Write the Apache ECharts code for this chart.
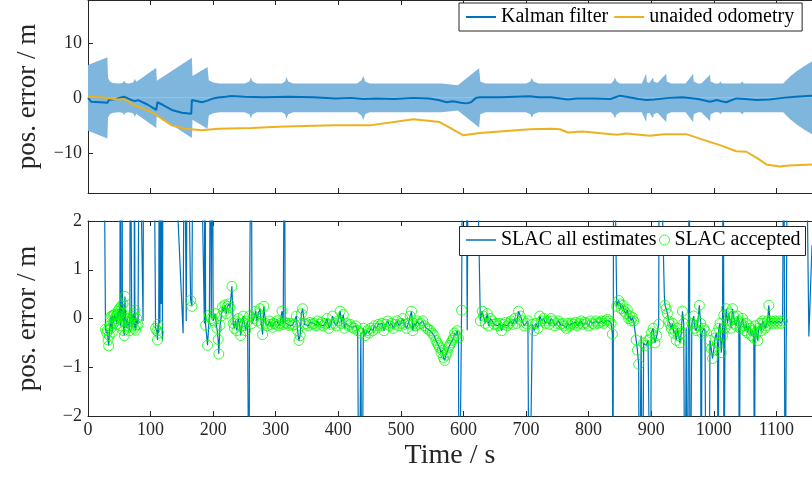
<!DOCTYPE html>
<html>
<head>
<meta charset="utf-8">
<script src="https://cdn.jsdelivr.net/npm/echarts@6/dist/echarts.min.js"></script>
<style>html,body{margin:0;padding:0;background:#fff}#c{width:812px;height:477px}</style>
</head>
<body>
<div id="c"></div>
<script>
// ---------- data ----------
const xTicks = [0,100,200,300,400,500,600,700,800,900,1000,1100];
const topYTicks = [-10,0,10];
const botYTicks = [-2,-1,0,1,2];

// Kalman filter 1-sigma band (symmetric about zero)
const bandT = [0,31,32,35,40,50,55,58,60,65,72,75,77,80,109,110,166,167,191,193,200,210,250,258,260,263,270,310,315,317,320,328,430,437,440,443,450,565,567,591,625,627,635,700,707,709,712,720,836,840,842,845,850,885,892,893,897,903,904,910,924,925,932,955,967,968,975,980,994,995,1002,1008,1011,1013,1018,1020,1022,1042,1046,1048,1066,1068,1070,1111,1116,1122,1133,1145,1157];
const bandS = [6.0,7.4,3.6,3.0,2.7,2.6,2.7,3.1,2.7,2.6,2.8,3.5,2.9,2.7,5.5,3.1,7.3,4.0,5.6,3.2,2.8,2.6,2.6,3.0,3.7,3.0,2.6,2.6,3.0,3.8,3.0,2.6,2.6,3.2,4.0,3.0,2.6,2.6,2.3,2.3,5.4,3.0,2.6,2.6,3.0,3.6,3.0,2.6,2.6,3.1,3.7,3.0,2.6,2.6,4.4,2.9,2.7,3.7,3.0,2.7,4.4,3.0,2.6,2.6,4.4,3.0,2.6,2.6,4.2,3.0,2.6,2.6,3.0,2.6,2.6,2.9,2.6,2.6,3.0,2.6,2.6,2.9,2.6,2.6,3.2,3.9,4.9,5.8,6.6];

const kfT = [0,3,5,20,31,33,45,57,62,70,75,80,95,109,111,120,134,150,165,166,175,182,191,200,208,220,229,250,280,320,360,395,420,440,460,490,520,545,560,573,583,596,605,612,620,626,660,706,720,740,767,780,810,835,850,860,880,892,905,929,950,975,994,1005,1012,1020,1036,1050,1068,1089,1110,1130,1157];
const kfV = [0.0,0.0,-0.7,-0.8,-0.9,-0.4,-0.2,0.2,0.0,-0.4,-0.6,-0.4,-1.2,-2.2,-0.8,-1.3,-2.2,-2.7,-2.9,-0.4,-0.6,-0.8,-0.5,-0.1,0.05,0.2,0.35,0.2,0.1,0.2,0.1,-0.1,0.0,-0.2,-0.1,-0.2,0.0,-0.1,-0.4,-0.8,-0.6,-0.9,-1.0,-0.8,0.0,0.1,0.1,0.3,0.1,0.1,-0.3,-0.1,-0.1,-0.2,0.4,0.2,-0.2,-0.4,-0.3,0.0,0.1,-0.2,-0.7,-0.4,-0.6,-0.8,-0.1,-0.2,-0.4,-0.3,0.0,0.2,0.4];

const odoT = [0,20,48,57,75,102,134,155,182,208,261,314,395,450,520,562,600,626,706,740,754,767,790,845,860,898,920,956,980,1010,1036,1052,1070,1084,1105,1120,1157];
const odoV = [0.2,0.1,-0.3,-0.2,-1.4,-2.6,-5.0,-5.6,-5.9,-5.6,-5.5,-5.2,-5.0,-5.0,-3.9,-4.4,-6.8,-6.4,-5.7,-5.6,-5.7,-6.3,-6.1,-6.7,-6.5,-6.9,-6.6,-6.6,-7.5,-8.6,-9.7,-9.8,-11.0,-12.1,-12.5,-12.3,-12.1];

// SLAC accepted estimates
const accT = [28,30,31,32,33,34,35,36,37,38,39,40,41,42,43,44,45,46,47,48,49,50,51,52,53,54,55,56,57,58,59,60,61,62,63,64,65,66,67,70,72,73,74,75,76,77,78,80,
108,110,111,112,113,164,166,
188,191,194,197,200,203,206,208,209,211,213,215,217,219,221,223,225,227,230,232,234,236,238,240,242,244,246,248,250,252,255,258,262,265,268,270,272,275,277,279,281,284,287,290,292,295,297,300,302,305,307,310,312,315,318,321,324,327,330,333,335,337,339,341,343,
346,349,352,355,358,361,364,367,370,373,376,379,382,385,388,391,394,397,400,403,405,408,410,413,416,419,422,425,428,431,436,440,443,446,449,452,455,458,461,464,467,470,473,476,479,482,485,488,491,494,497,500,503,506,509,512,515,517,519,521,523,526,529,532,535,538,541,544,547,550,553,556,558,560,562,564,566,568,570,572,574,576,578,580,582,584,586,588,590,592,597,
627,630,632,635,638,640,643,646,649,652,655,658,661,664,667,670,673,676,679,682,685,688,691,694,697,700,703,710,713,716,719,722,725,728,731,734,737,740,743,746,749,752,755,758,761,764,767,770,773,776,779,782,785,788,791,794,797,800,803,806,809,812,815,818,821,824,827,830,833,836,838,
845,848,850,852,855,857,860,862,864,866,868,870,872,876,878,880,
888,892,895,898,900,903,906,909,912,
922,924,926,928,930,932,934,936,938,940,942,944,946,948,950,952,
965,968,970,972,974,977,979,981,984,986,
994,996,998,1000,1002,1004,1006,1008,1010,1012,1014,1016,1018,
1020,1022,1024,1026,1028,1030,1032,1034,1036,1038,1040,1042,1044,1046,1048,1050,1052,1054,1056,1058,1060,1062,1064,1066,1068,1070,1072,1074,1076,1078,1080,1082,1084,1086,1088,1090,1092,1095,1098,1101,1104,1107,1110];
const accV = [-0.22,-0.3,-0.24,-0.44,-0.56,-0.35,-0.15,0.03,-0.2,0.05,-0.28,0.06,-0.1,0.08,0.0,-0.05,0.05,-0.12,0.08,0.15,0.02,0.2,0.1,-0.15,0.25,0.12,-0.05,0.3,-0.25,-0.35,0.45,0.0,-0.05,-0.2,0.0,-0.15,-0.08,-0.25,-0.05,-0.15,0.05,0.1,-0.2,0.17,-0.24,-0.14,0.0,-0.12,
-0.2,-0.25,-0.44,-0.12,-0.3,0.37,0.25,
-0.14,-0.55,0.07,0.0,-0.05,0.1,-0.2,-0.43,-0.73,-0.14,0.05,0.24,0.15,0.28,0.1,0.25,0.3,0.22,0.66,-0.1,-0.2,-0.05,-0.25,0.0,-0.1,-0.35,-0.15,0.05,-0.1,-0.25,-0.05,0.05,-0.1,0.0,0.15,-0.05,0.1,0.2,-0.1,-0.33,0.25,-0.1,-0.15,-0.05,-0.12,-0.18,-0.1,-0.12,-0.05,-0.15,-0.1,0.15,-0.12,-0.08,-0.1,-0.14,-0.1,-0.14,-0.12,0.05,-0.25,-0.45,-0.35,0.1,0.2,
-0.12,-0.1,-0.15,-0.08,-0.12,-0.1,-0.15,-0.05,-0.12,-0.08,-0.15,-0.1,0.0,-0.2,-0.12,0.05,-0.1,-0.15,-0.05,0.15,-0.1,0.08,-0.2,-0.1,-0.15,-0.12,-0.18,-0.2,-0.15,-0.25,-0.3,-0.2,-0.35,-0.25,-0.3,-0.2,-0.25,-0.15,-0.2,-0.12,-0.15,-0.1,-0.25,-0.12,-0.05,-0.15,-0.1,-0.2,-0.12,-0.05,-0.15,-0.1,0.0,-0.12,-0.2,-0.1,0.05,0.15,-0.25,-0.1,-0.15,-0.05,-0.12,-0.1,-0.05,-0.15,-0.2,-0.22,-0.25,-0.3,-0.35,-0.45,-0.5,-0.55,-0.6,-0.7,-0.65,-0.8,-0.86,-0.75,-0.7,-0.6,-0.55,-0.5,-0.45,-0.4,-0.3,-0.35,-0.25,-0.4,0.17,
-0.05,0.15,0.05,-0.1,0.1,-0.15,0.0,-0.05,-0.12,-0.1,-0.15,-0.1,-0.25,-0.12,-0.08,-0.15,-0.1,-0.05,-0.12,0.0,-0.1,0.15,0.05,-0.05,-0.15,-0.1,-0.05,-0.12,-0.25,-0.1,-0.2,0.05,-0.05,0.0,-0.1,-0.05,-0.12,0.0,-0.05,-0.15,-0.1,-0.05,-0.12,-0.1,-0.15,-0.2,-0.1,-0.15,-0.1,-0.12,-0.08,-0.15,-0.1,-0.05,-0.12,-0.08,-0.1,-0.15,-0.05,-0.1,-0.12,-0.05,-0.1,-0.08,-0.05,-0.1,-0.05,-0.02,-0.05,-0.1,-0.32,
0.25,0.37,0.3,0.2,0.27,0.15,0.1,0.18,0.0,0.05,-0.05,0.02,-0.05,-0.44,-0.65,-0.94,
-0.5,-0.55,-0.45,-0.42,-0.3,-0.2,-0.5,-0.35,-0.12,
0.27,0.2,0.1,-0.05,-0.12,-0.2,-0.1,-0.3,-0.25,-0.45,-0.2,-0.35,-0.5,-0.3,0.15,-0.1,
-0.1,0.05,-0.2,-0.25,-0.15,0.27,-0.1,-0.3,-0.2,-0.25,
-0.45,-0.62,-0.82,-0.65,-0.4,-0.3,-0.5,-0.2,-0.1,-0.7,-0.35,0.07,-0.2,
0.2,-0.1,0.1,-0.05,-0.2,0.2,0.05,-0.1,-0.15,0.05,-0.05,-0.2,-0.1,0.0,-0.15,-0.25,-0.1,-0.3,-0.15,-0.2,-0.35,-0.25,-0.4,-0.15,-0.3,-0.45,-0.2,-0.1,-0.25,-0.05,-0.1,-0.2,-0.15,-0.05,0.27,-0.1,-0.05,-0.1,-0.05,-0.1,-0.05,-0.1,-0.05];

// SLAC estimates that were rejected (outliers)
const rejT = [25,51.5,54.5,67.5,74,82,88,89,95,105,114,115,116,117,118,119,120,130,152,154,157,159,162,168,178,186,187,196,199,257.5,261,314,433,438,593,599,604,606,608,614,620,705,839,840,881,884,886,899,913,916,918,921,954,956,958,961,962,980,988,992,1007,1015,1016,1041,1065,1112,1114,1118,1148,1152,1157];
const rejV = [5,5,5,5,5,5,-0.05,5,6,5,5,-0.1,5,0.3,5,-0.45,5,6,-0.3,5,-0.05,5,5,5,6,-0.1,5,5,5,-5,5,5,-5,-5,-5,5,5,-0.24,5,5,5,-5,-5,5,-5,-0.35,-5,-5,5,5,2.2,0.5,-5,-0.2,-5,5,-5,-5,-5,-5,-5,5,-5,-5,-5,5,-5,5,4,-0.37,1.5];

// ---------- build ----------
const pairs = (t, v) => t.map((x, i) => [x, v[i]]);
const allEst = pairs(accT, accV).concat(pairs(rejT, rejV)).sort((a, b) => a[0] - b[0]);

const FONT = "'Liberation Serif', serif";
const AX = '#262626';
const minus = v => String(v).replace('-', '\u2212');
const plain = v => String(v);

function xAxisDef(gridIndex, position, showLabels, name) {
  return {
    type: 'value', gridIndex, position, min: 0, max: 1157,
    axisLine: { show: true, onZero: false, lineStyle: { color: AX, width: 1 } },
    axisTick: { show: true, inside: true, length: 5, customValues: xTicks, lineStyle: { color: AX } },
    axisLabel: { show: showLabels, customValues: xTicks, margin: 5, color: AX, fontSize: 18, fontFamily: FONT, formatter: plain },
    splitLine: { show: false },
    name: name || '', nameLocation: 'middle', nameGap: 26,
    nameTextStyle: { fontSize: 28, fontFamily: FONT, color: AX }
  };
}
function yAxisDef(gridIndex, min, max, ticks) {
  return {
    type: 'value', gridIndex, min, max,
    axisLine: { show: true, lineStyle: { color: AX, width: 1 } },
    axisTick: { show: true, inside: true, length: 5, customValues: ticks, lineStyle: { color: AX } },
    axisLabel: { customValues: ticks, margin: 6, color: AX, fontSize: 18, fontFamily: FONT, formatter: minus },
    splitLine: { show: false },
    name: 'pos. error / m', nameLocation: 'middle', nameGap: 47, nameRotate: 90,
    nameTextStyle: { fontSize: 27, fontFamily: FONT, color: AX }
  };
}

const option = {
  animation: false,
  backgroundColor: '#fff',
  grid: [
    { left: 88, right: 0, top: -2, height: 195 },
    { left: 88, right: 0, top: 221, height: 195 }
  ],
  xAxis: [
    xAxisDef(0, 'bottom', false),
    xAxisDef(0, 'top', false),
    xAxisDef(1, 'bottom', true, 'Time / s'),
    xAxisDef(1, 'top', false)
  ],
  yAxis: [
    yAxisDef(0, -17.3, 17.8, topYTicks),
    yAxisDef(1, -2, 2, botYTicks)
  ],
  legend: [
    {
      data: ['Kalman filter', 'unaided odometry'],
      left: 459, top: 3, orient: 'horizontal',
      padding: [4, 8, 4, 7], itemGap: 6, itemWidth: 30, itemHeight: 2, icon: 'rect',
      backgroundColor: '#fff', borderColor: AX, borderWidth: 1, borderRadius: 0,
      textStyle: { fontSize: 20, fontFamily: FONT, color: '#000' },
      selectedMode: false
    },
    {
      data: ['SLAC all estimates'],
      left: 466, top: 230, padding: 0, itemWidth: 30, itemHeight: 1.5, icon: 'rect',
      textStyle: { fontSize: 20, fontFamily: FONT, color: '#000' },
      selectedMode: false, z: 10
    },
    {
      data: [{ name: 'SLAC accepted', icon: 'circle',
               itemStyle: { color: 'rgba(0,0,0,0)', borderColor: '#00ff00', borderWidth: 1 } }],
      left: 659, top: 230, padding: 0, itemWidth: 10, itemHeight: 10,
      textStyle: { fontSize: 20, fontFamily: FONT, color: '#000' },
      selectedMode: false, z: 10
    }
  ],
  graphic: [
    { type: 'rect', z: 5, shape: { x: 459.5, y: 226.5, width: 346, height: 29 },
      style: { fill: '#fff', stroke: AX, lineWidth: 1 } }
  ],
  series: [
    { type: 'line', xAxisIndex: 0, yAxisIndex: 0, data: pairs(bandT, bandS), symbol: 'none', silent: true,
      lineStyle: { width: 0 }, areaStyle: { color: '#7EB6DE', opacity: 1, origin: 0 }, z: 1 },
    { type: 'line', xAxisIndex: 0, yAxisIndex: 0, data: pairs(bandT, bandS.map(s => -s)), symbol: 'none', silent: true,
      lineStyle: { width: 0 }, areaStyle: { color: '#7EB6DE', opacity: 1, origin: 0 }, z: 1 },
    { name: 'Kalman filter', type: 'line', xAxisIndex: 0, yAxisIndex: 0, data: pairs(kfT, kfV),
      symbol: 'none', color: '#0072BD', lineStyle: { width: 2, color: '#0072BD' }, z: 3 },
    { name: 'unaided odometry', type: 'line', xAxisIndex: 0, yAxisIndex: 0, data: pairs(odoT, odoV),
      symbol: 'none', color: '#EDB120', lineStyle: { width: 2, color: '#EDB120' }, z: 3 },
    { name: 'SLAC all estimates', type: 'line', xAxisIndex: 2, yAxisIndex: 1, data: allEst,
      symbol: 'none', color: '#0072BD', lineStyle: { width: 1.2, color: '#0072BD' }, clip: true, z: 2 },
    { name: 'SLAC accepted', type: 'scatter', xAxisIndex: 2, yAxisIndex: 1, data: pairs(accT, accV),
      symbol: 'circle', symbolSize: 10, color: '#00ff00',
      itemStyle: { color: 'rgba(0,0,0,0)', borderColor: '#00ff00', borderWidth: 1 }, z: 3 }
  ]
};

const chart = echarts.init(document.getElementById('c'), null, { renderer: 'canvas' });
chart.setOption(option);
</script>
</body>
</html>
